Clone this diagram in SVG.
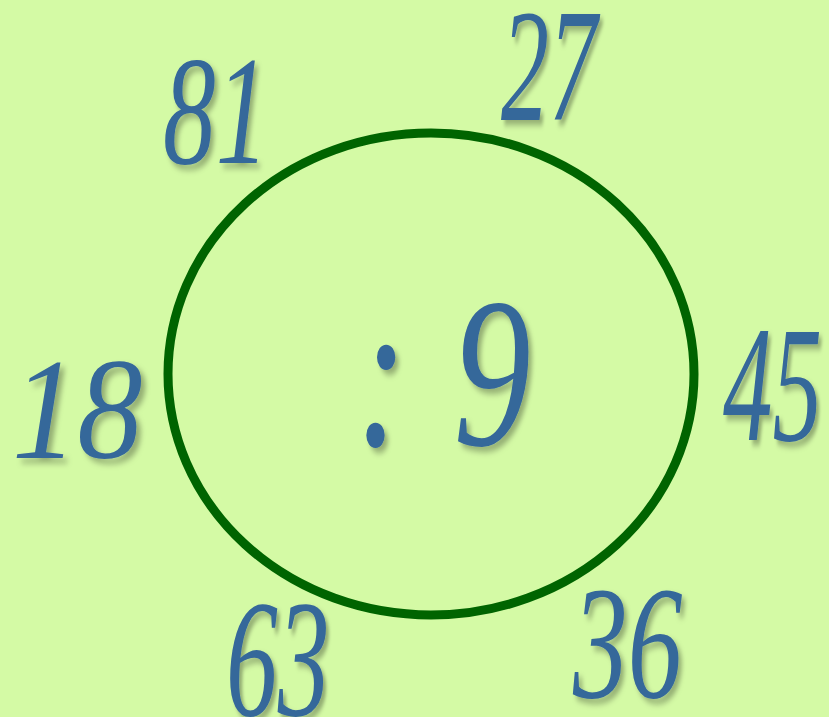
<svg xmlns="http://www.w3.org/2000/svg" width="829" height="717" viewBox="0 0 829 717">
<defs>
<filter id="sh" x="-30%" y="-30%" width="170%" height="170%">
<feDropShadow dx="5" dy="5" stdDeviation="3" flood-color="#000" flood-opacity="0.3"/>
</filter>
<style>
.n{font-family:"Liberation Serif","Times New Roman",serif;font-style:italic;fill:#36679A;filter:url(#sh)}
</style>
</defs>
<rect width="829" height="717" fill="#D4FAA5"/>
<g id="circle"><ellipse cx="431" cy="374" rx="263" ry="241" fill="none" stroke="#006400" stroke-width="9"/></g>
<g id="center"><text class="n" font-size="215" transform="translate(356,445) scale(0.72,1)">: <tspan dx="10">9</tspan></text></g>
<g id="n81"><text class="n" font-size="155" transform="translate(163,163) scale(0.68,1)">81</text></g>
<g id="n27"><text class="n" font-size="160" transform="translate(501,120) scale(0.6,1)">27</text></g>
<g id="n18"><text class="n" font-size="145" transform="translate(12,458) scale(0.9,1)">18</text></g>
<g id="n45"><text class="n" font-size="165" transform="translate(723,440) scale(0.6,1)">45</text></g>
<g id="n63"><text class="n" font-size="167" transform="translate(226,715) scale(0.62,1)">63</text></g>
<g id="n36"><text class="n" font-size="161" transform="translate(573,697) scale(0.68,1)">36</text></g>
</svg>
